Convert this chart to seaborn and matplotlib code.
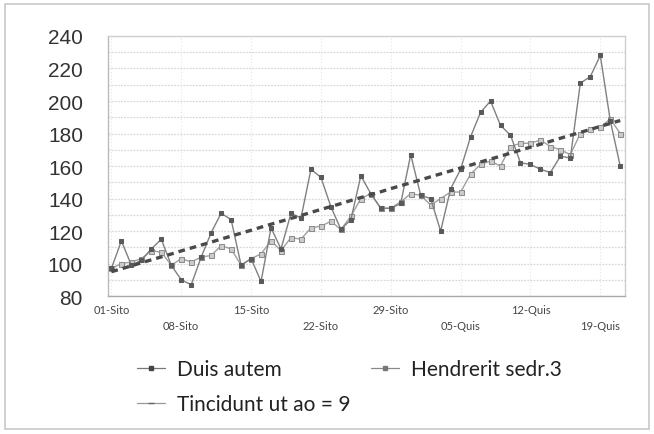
import matplotlib
matplotlib.use("Agg")
import matplotlib.pyplot as plt
from matplotlib.patches import Rectangle
from matplotlib.lines import Line2D
import seaborn as sns
import numpy as np
import pandas as pd

# dias: 01-Sito .. 31-Sito, 01-Quis .. 21-Quis
dias = [f"{d:02d}-Sito" for d in range(1, 32)] + [f"{d:02d}-Quis" for d in range(1, 22)]

duis_autem = [97, 114, 99, 102, 109, 115, 99, 90, 87, 104,
              119, 131, 127, 99, 103, 89, 122, 109, 131, 128,
              158, 153, 135, 121, 127, 154, 143, 134, 134, 137,
              167, 142, 140, 120, 146, 158, 178, 193, 200, 185,
              179, 162, 161, 158, 156, 166, 165, 211, 215, 228,
              188, 160]

hendrerit = [97, 100, 101, 103, 108, 107, 99, 103, 101, 104,
             105, 111, 109, 99, 103, 106, 114, 108, 116, 115,
             122, 123, 126, 121, 129, 140, 143, 134, 134, 138,
             143, 142, 136, 140, 144, 144, 155, 161, 163, 160,
             172, 174, 174, 176, 172, 170, 167, 180, 183, 184,
             189, 180]

tincidunt = [95.0, 96.8, 98.6, 100.5, 102.3, 104.1, 105.9, 107.8, 109.6, 111.4,
             113.2, 115.1, 116.9, 118.7, 120.5, 122.4, 124.2, 126.0, 127.8, 129.6,
             131.5, 133.3, 135.1, 136.9, 138.8, 140.6, 142.4, 144.2, 146.1, 147.9,
             149.7, 151.5, 153.4, 155.2, 157.0, 158.8, 160.6, 162.5, 164.3, 166.1,
             167.9, 169.8, 171.6, 173.4, 175.2, 177.1, 178.9, 180.7, 182.5, 184.4,
             186.2, 188.0]

nomes = ["Duis autem", "Hendrerit sedr.3", "Tincidunt ut ao = 9"]

sns.set_theme(style="white")
plt.rcParams['font.family'] = ['Lato', 'DejaVu Sans']

fig = plt.figure(figsize=(6.54, 4.35), dpi=100)
ax = fig.add_axes([0.165, 0.317, 0.791, 0.598])

x = np.arange(len(dias))
df = pd.DataFrame({"x": x, nomes[0]: duis_autem, nomes[1]: hendrerit, nomes[2]: tincidunt})

sns.lineplot(data=df, x="x", y=nomes[1], ax=ax, color="#a0a0a0", lw=1.0,
             marker="s", markersize=3.6, markerfacecolor="#cccccc", markeredgecolor="#8c8c8c",
             zorder=3)
sns.lineplot(data=df, x="x", y=nomes[0], ax=ax, color="#808080", lw=1.0,
             marker="s", markersize=3.2, markerfacecolor="#5a5a5a", markeredgecolor="#5a5a5a",
             zorder=4)
sns.lineplot(data=df, x="x", y=nomes[2], ax=ax, color="#4a4a4a", lw=2.4,
             linestyle=(0, (2, 1.5)), zorder=5)

ax.set_xlim(-0.35, 51.5)
ax.set_ylim(80, 240)
ax.set_yticks(range(80, 241, 20))
ax.set_yticks(range(90, 240, 20), minor=True)
ax.tick_params(axis="y", which="both", length=0, labelsize=15, labelcolor="#333333", pad=18)
for lab in ax.get_yticklabels():
    lab.set_family(['Liberation Sans', 'DejaVu Sans'])

pos = list(range(0, len(dias), 7))
rot = [dias[i] if k % 2 == 0 else "\n" + dias[i] for k, i in enumerate(pos)]
ax.set_xticks(pos)
ax.set_xticklabels(rot, fontsize=8, color="#444444", linespacing=1.5)
ax.set_xticks(x, minor=True)
ax.tick_params(axis="x", which="both", direction="inout", length=6, width=0.8,
               color="#999999", pad=3)

ax.grid(axis="y", which="both", color="#d8d8d8", lw=0.9, linestyle=(0, (1.5, 1)))
ax.grid(axis="x", which="major", color="#e4e4e4", lw=0.8, linestyle=(0, (1, 2)))
ax.set_axisbelow(True)
for s in ax.spines.values():
    s.set_color("#cfcfcf")
    s.set_linewidth(1.0)
ax.spines["left"].set_color("#bbbbbb")
ax.spines["bottom"].set_color("#aaaaaa")
ax.set_xlabel("")
ax.set_ylabel("")

# legenda: linhas finas com marcador pequeno
alcas = [
    Line2D([], [], color="#777777", lw=0.9, marker="s", markersize=2.2, markerfacecolor="#444444", markeredgecolor="#444444"),
    Line2D([], [], color="#999999", lw=0.9, marker="_", markersize=5, markeredgecolor="#666666"),
    Line2D([], [], color="#888888", lw=0.9, marker="s", markersize=2.2, markerfacecolor="#777777", markeredgecolor="#777777"),
]
textos = [nomes[0], nomes[2], nomes[1]]
fig.legend(alcas, textos, loc="upper left", bbox_to_anchor=(0.209, 0.172),
           bbox_transform=fig.transFigure, ncol=2, frameon=False, fontsize=15,
           borderpad=0, borderaxespad=0, handlelength=1.35, handletextpad=0.58,
           columnspacing=1.0, labelspacing=0.72, labelcolor="#222222")

fig.patches.append(Rectangle((0.008, 0.012), 0.984, 0.976, transform=fig.transFigure,
                             fill=False, edgecolor="#c8c8c8", lw=1.2))

fig.savefig("out.png", dpi=100)
